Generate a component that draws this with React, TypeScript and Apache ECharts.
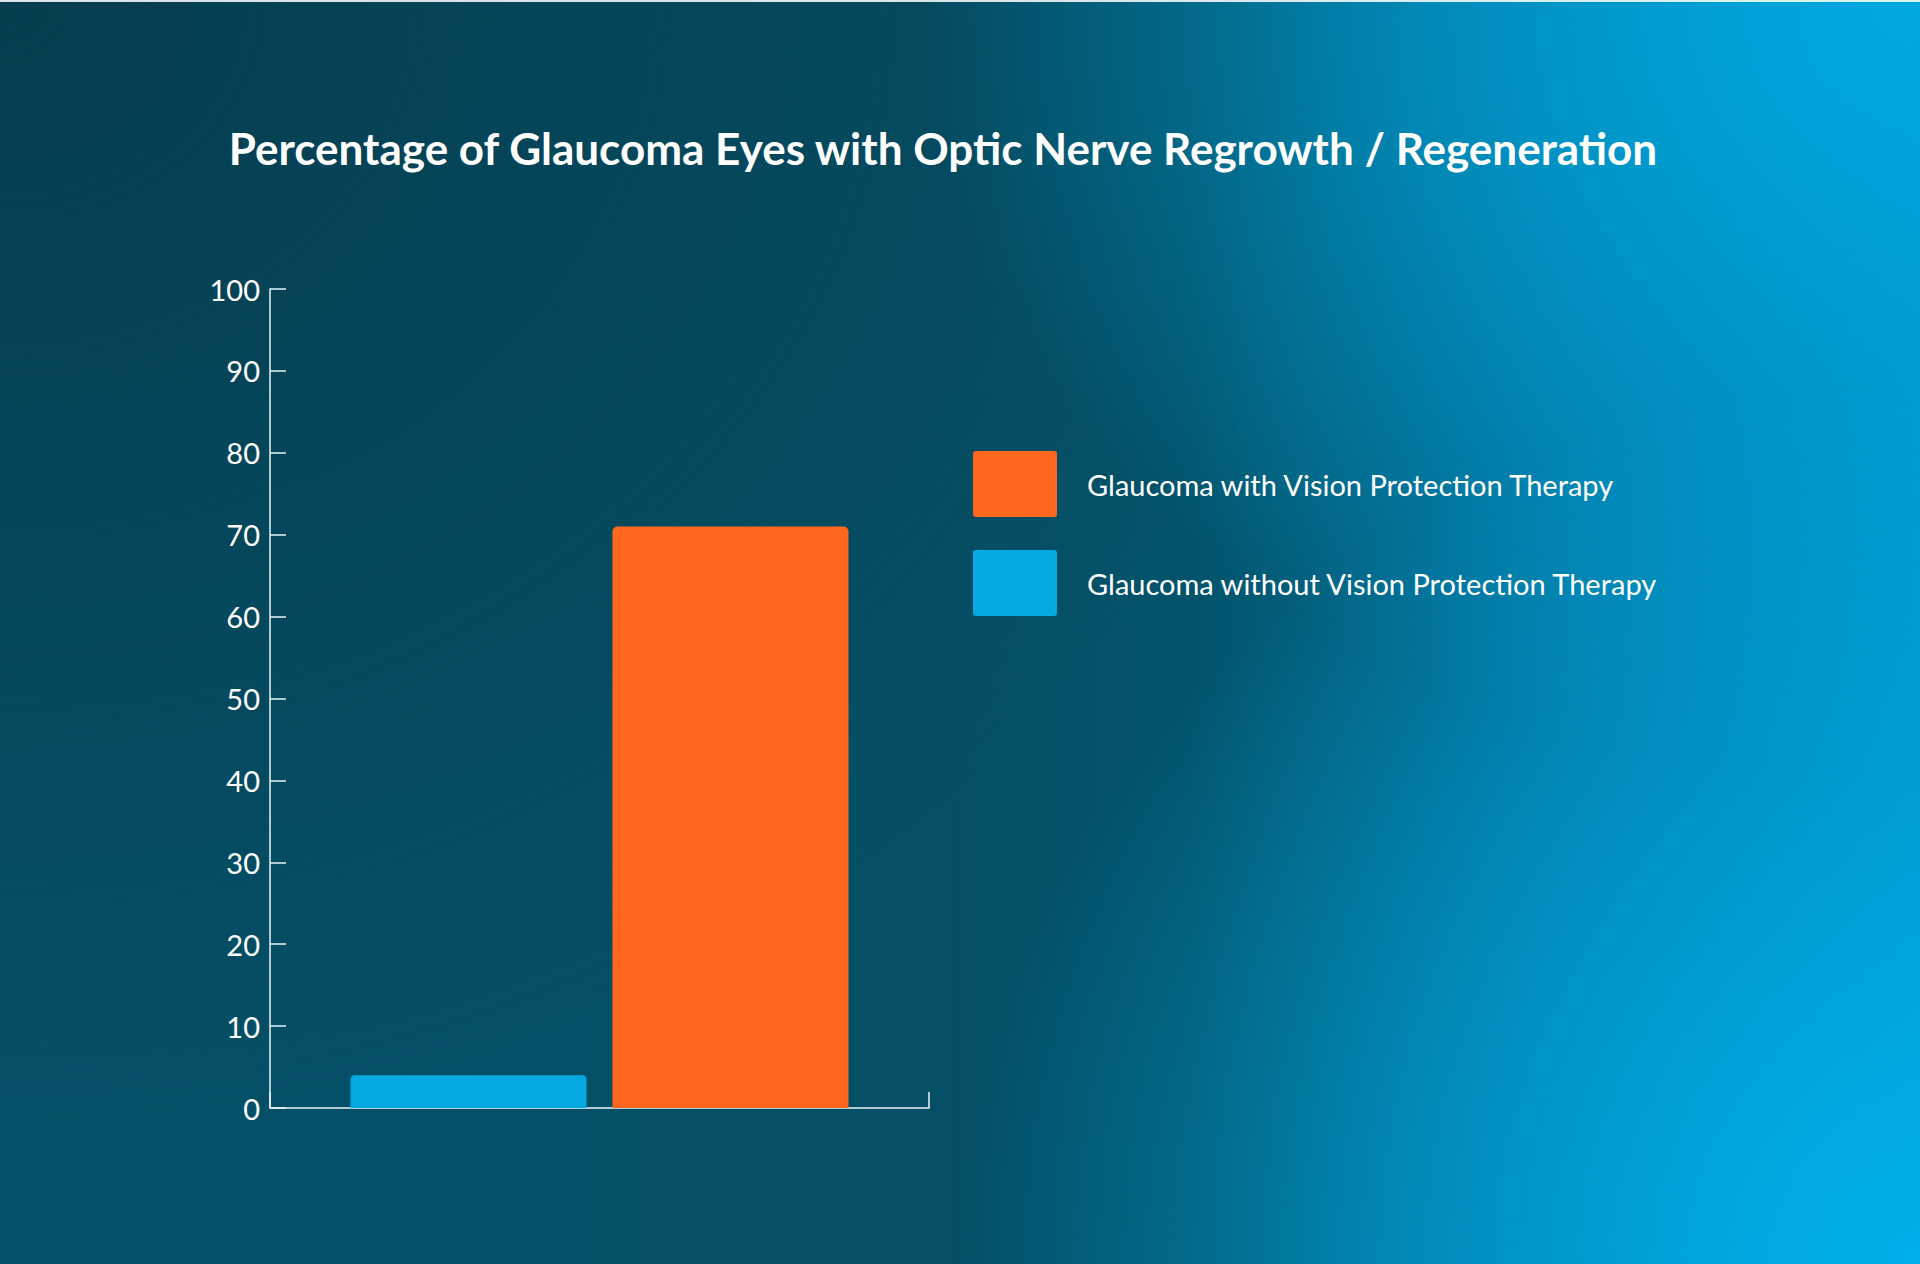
import { useEffect, useRef } from "react";
import * as echarts from "echarts";

const TITLE = "Percentage of Glaucoma Eyes with Optic Nerve Regrowth / Regeneration";
const categories = [""];
const seriesNames = ["Glaucoma without Vision Protection Therapy", "Glaucoma with Vision Protection Therapy"];
const withoutTherapy = [4];
const withTherapy = [71];
const legendOrder = ["Glaucoma with Vision Protection Therapy", "Glaucoma without Vision Protection Therapy"];

const ORANGE = "#ff671f";
const BLUE = "#04a9e1";
const FONT = "Lato";
// square legend swatch with slightly rounded corners
const SWATCH = "path://M3,0 H81 Q84,0 84,3 V63 Q84,66 81,66 H3 Q0,66 0,63 V3 Q0,0 3,0 Z";

export default function App() {
  const elRef = useRef<HTMLDivElement>(null);

  useEffect(() => {
    document.body.style.margin = "0";
    if (!elRef.current) return;
    const chart = echarts.init(elRef.current, undefined, { renderer: "svg" });
    chart.setOption({
      backgroundColor: "transparent",
      animation: false,
      textStyle: { fontFamily: FONT, color: "#fff" },
      title: {
        text: TITLE, left: 938, textAlign: "center", top: 119,
        textStyle: { color: "#fff", fontSize: 44, fontWeight: "bold", fontFamily: FONT },
      },
      legend: {
        data: legendOrder, orient: "vertical", left: 968, top: 444,
        itemWidth: 84, itemHeight: 66, itemGap: 33, icon: SWATCH,
        textStyle: { color: "#fff", fontSize: 29, fontFamily: FONT, padding: [0, 0, 0, 25] },
      },
      grid: { left: 270, right: 991, top: 287, bottom: 156 },
      xAxis: {
        type: "category", data: categories,
        axisLine: { lineStyle: { color: "#e8f4f8", width: 1.5 } },
        axisTick: { show: true, inside: true, length: 16, lineStyle: { color: "#e8f4f8", width: 1.5 } },
        axisLabel: { show: false },
      },
      yAxis: {
        type: "value", min: 0, max: 100, interval: 10,
        axisLine: { show: true, lineStyle: { color: "#e8f4f8", width: 1.5 } },
        axisTick: { show: true, inside: true, length: 16, lineStyle: { color: "#e8f4f8", width: 1.5 } },
        axisLabel: { color: "#fff", fontSize: 29, fontFamily: FONT, margin: 10 },
        splitLine: { show: false },
      },
      series: [
        {
          name: seriesNames[0], type: "bar", data: withoutTherapy, barWidth: 236, barGap: "11%",
          itemStyle: { color: BLUE, borderRadius: [4, 4, 0, 0] },
        },
        {
          name: seriesNames[1], type: "bar", data: withTherapy, barWidth: 236,
          itemStyle: { color: ORANGE, borderRadius: [5, 5, 0, 0] },
        },
      ],
    });
    return () => chart.dispose();
  }, []);

  return (
    <div
      ref={elRef}
      style={{
        width: 1920,
        height: 1264,
        boxSizing: "border-box",
        borderTop: "2px solid rgba(255,255,255,0.85)",
        background: [
          "radial-gradient(ellipse 50% 70% at 100% 100%, rgba(0,176,234,1) 0%, rgba(0,176,234,0) 100%)",
          "radial-gradient(ellipse 52% 62% at 100% 0%, rgba(0,168,224,1) 0%, rgba(0,168,224,0) 100%)",
          "radial-gradient(ellipse 70% 90% at 0% 0%, rgba(6,58,74,0.85) 0%, rgba(6,58,74,0) 100%)",
          "linear-gradient(90deg, #045068 0%, #044f66 50%, #03546b 62%, #02729a 80%, #008fc2 100%)",
        ].join(", "),
      }}
    />
  );
}
